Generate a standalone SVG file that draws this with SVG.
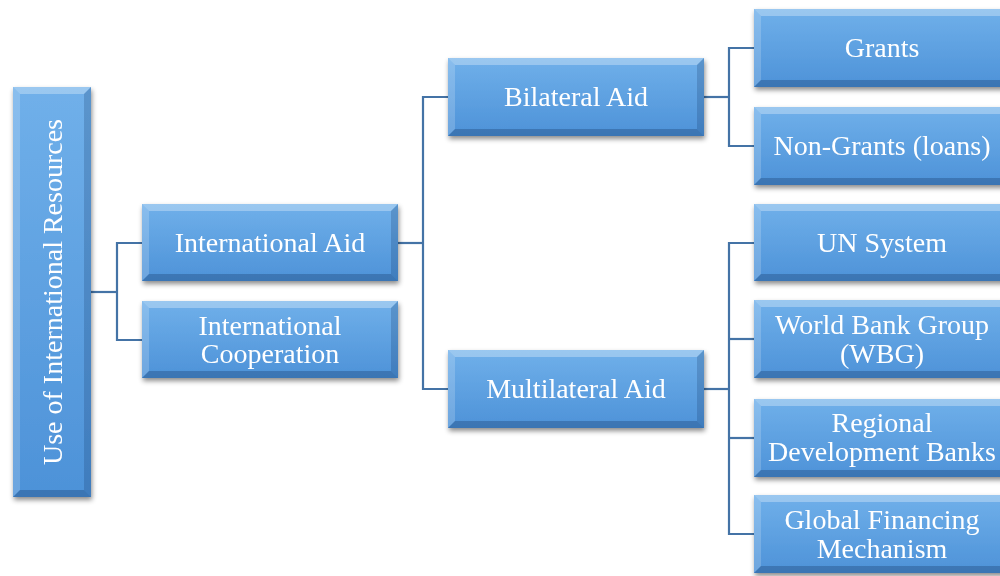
<svg xmlns="http://www.w3.org/2000/svg" width="1000" height="576" viewBox="0 0 1000 576">
<defs>
<linearGradient id="g" x1="0" y1="0" x2="0" y2="1">
<stop offset="0" stop-color="#70B0EA"/>
<stop offset="1" stop-color="#4D92D8"/>
</linearGradient>
<filter id="sh" x="-10%" y="-10%" width="130%" height="130%">
<feDropShadow dx="1" dy="3" stdDeviation="2.5" flood-color="#000" flood-opacity="0.45"/>
</filter>
</defs>
<style>
.body{fill:url(#g)}
.bt{fill:#ffffff;fill-opacity:0.3}
.bl{fill:#ffffff;fill-opacity:0.18}
.br{fill:#0a2a55;fill-opacity:0.2}
.bb{fill:#0a2a55;fill-opacity:0.28}
.t{font-family:"Liberation Serif","Times New Roman",serif;font-size:28px;fill:#ffffff;text-anchor:middle}
.c{fill:none;stroke:#4473A6;stroke-width:2.2}
</style>
<rect width="1000" height="576" fill="#ffffff"/>
<g id="connectors">
<polyline class="c" points="91,292 117,292"/>
<polyline class="c" points="142,243 117,243 117,340 142,340"/>
<polyline class="c" points="398,243 423,243"/>
<polyline class="c" points="448,97 423,97 423,389 448,389"/>
<polyline class="c" points="704,97 729,97"/>
<polyline class="c" points="754,48 729,48 729,146 754,146"/>
<polyline class="c" points="704,389 729,389"/>
<polyline class="c" points="754,243 729,243 729,534 754,534"/>
<polyline class="c" points="729,339 754,339"/>
<polyline class="c" points="729,438 754,438"/>
</g>
<g id="root" filter="url(#sh)">
<rect class="body" x="13" y="87" width="78" height="410"/>
<polygon class="bt" points="13,87 91,87 84,94 20,94"/>
<polygon class="bl" points="13,87 20,94 20,490 13,497"/>
<polygon class="br" points="91,87 91,497 84,490 84,94"/>
<polygon class="bb" points="13,497 91,497 84,490 20,490"/>
<text class="t" transform="translate(62,292) rotate(-90)" x="0" y="0">Use of International Resources</text>
</g>
<g id="intl-aid" filter="url(#sh)">
<rect class="body" x="142" y="204" width="256" height="77"/>
<polygon class="bt" points="142,204 398,204 391,211 149,211"/>
<polygon class="bl" points="142,204 149,211 149,274 142,281"/>
<polygon class="br" points="398,204 398,281 391,274 391,211"/>
<polygon class="bb" points="142,281 398,281 391,274 149,274"/>
<text class="t" x="270" y="252">International Aid</text>
</g>
<g id="intl-coop" filter="url(#sh)">
<rect class="body" x="142" y="301" width="256" height="77"/>
<polygon class="bt" points="142,301 398,301 391,308 149,308"/>
<polygon class="bl" points="142,301 149,308 149,371 142,378"/>
<polygon class="br" points="398,301 398,378 391,371 391,308"/>
<polygon class="bb" points="142,378 398,378 391,371 149,371"/>
<text class="t" x="270" y="335">International</text>
<text class="t" x="270" y="363">Cooperation</text>
</g>
<g id="bilateral" filter="url(#sh)">
<rect class="body" x="448" y="58" width="256" height="78"/>
<polygon class="bt" points="448,58 704,58 697,65 455,65"/>
<polygon class="bl" points="448,58 455,65 455,129 448,136"/>
<polygon class="br" points="704,58 704,136 697,129 697,65"/>
<polygon class="bb" points="448,136 704,136 697,129 455,129"/>
<text class="t" x="576" y="106">Bilateral Aid</text>
</g>
<g id="multilateral" filter="url(#sh)">
<rect class="body" x="448" y="350" width="256" height="78"/>
<polygon class="bt" points="448,350 704,350 697,357 455,357"/>
<polygon class="bl" points="448,350 455,357 455,421 448,428"/>
<polygon class="br" points="704,350 704,428 697,421 697,357"/>
<polygon class="bb" points="448,428 704,428 697,421 455,421"/>
<text class="t" x="576" y="398">Multilateral Aid</text>
</g>
<g id="grants" filter="url(#sh)">
<rect class="body" x="754" y="9" width="256" height="78"/>
<polygon class="bt" points="754,9 1010,9 1003,16 761,16"/>
<polygon class="bl" points="754,9 761,16 761,80 754,87"/>
<polygon class="bb" points="754,87 1010,87 1003,80 761,80"/>
<text class="t" x="882" y="57">Grants</text>
</g>
<g id="non-grants" filter="url(#sh)">
<rect class="body" x="754" y="107" width="256" height="78"/>
<polygon class="bt" points="754,107 1010,107 1003,114 761,114"/>
<polygon class="bl" points="754,107 761,114 761,178 754,185"/>
<polygon class="bb" points="754,185 1010,185 1003,178 761,178"/>
<text class="t" x="882" y="155">Non-Grants (loans)</text>
</g>
<g id="un-system" filter="url(#sh)">
<rect class="body" x="754" y="204" width="256" height="77"/>
<polygon class="bt" points="754,204 1010,204 1003,211 761,211"/>
<polygon class="bl" points="754,204 761,211 761,274 754,281"/>
<polygon class="bb" points="754,281 1010,281 1003,274 761,274"/>
<text class="t" x="882" y="252">UN System</text>
</g>
<g id="wbg" filter="url(#sh)">
<rect class="body" x="754" y="300" width="256" height="78"/>
<polygon class="bt" points="754,300 1010,300 1003,307 761,307"/>
<polygon class="bl" points="754,300 761,307 761,371 754,378"/>
<polygon class="bb" points="754,378 1010,378 1003,371 761,371"/>
<text class="t" x="882" y="334">World Bank Group</text>
<text class="t" x="882" y="363">(WBG)</text>
</g>
<g id="regional" filter="url(#sh)">
<rect class="body" x="754" y="399" width="256" height="78"/>
<polygon class="bt" points="754,399 1010,399 1003,406 761,406"/>
<polygon class="bl" points="754,399 761,406 761,470 754,477"/>
<polygon class="bb" points="754,477 1010,477 1003,470 761,470"/>
<text class="t" x="882" y="432">Regional</text>
<text class="t" x="882" y="461">Development Banks</text>
</g>
<g id="global" filter="url(#sh)">
<rect class="body" x="754" y="495" width="256" height="78"/>
<polygon class="bt" points="754,495 1010,495 1003,502 761,502"/>
<polygon class="bl" points="754,495 761,502 761,566 754,573"/>
<polygon class="bb" points="754,573 1010,573 1003,566 761,566"/>
<text class="t" x="882" y="529">Global Financing</text>
<text class="t" x="882" y="558">Mechanism</text>
</g>
</svg>
